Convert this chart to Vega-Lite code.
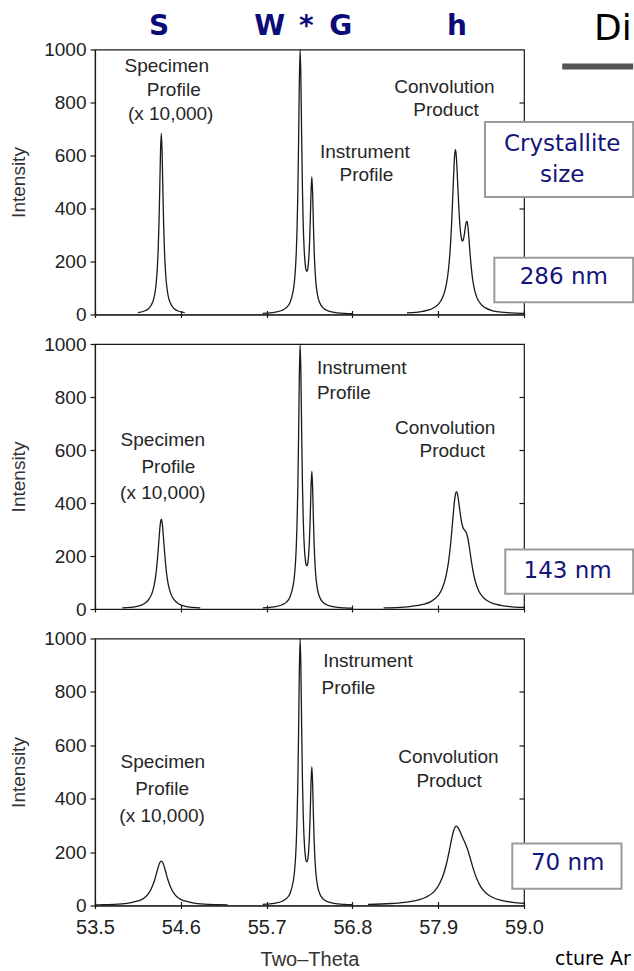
{
  "$schema": "https://vega.github.io/schema/vega-lite/v6.json",
  "padding": {"left": 9, "top": 10.5, "right": 0, "bottom": 0},
  "bounds": "flush",
  "spacing": 29.5,
  "config": {
    "view": {"stroke": "#1a1a1a", "strokeWidth": 1.2},
    "axis": {"grid": false, "labelFont": "Liberation Sans", "titleFont": "Liberation Sans", "labelFontSize": 20, "labelColor": "#222", "titleColor": "#333", "domainColor": "#1a1a1a", "tickColor": "#1a1a1a", "titleFontWeight": "normal", "domainWidth": 1.2, "tickWidth": 1.2, "labelFlush": false, "labelOverlap": false},
    "text": {"font": "DejaVu Sans"}
  },
  "datasets": {
    "inst": [
      {"x": 55.65, "y": 4}, {"x": 55.7, "y": 5}, {"x": 55.8, "y": 8}, {"x": 55.9, "y": 16}, {"x": 55.95, "y": 25}, {"x": 56.0, "y": 45}, {"x": 56.04, "y": 88}, {"x": 56.05, "y": 107}, {"x": 56.06, "y": 135}, {"x": 56.07, "y": 174}, {"x": 56.08, "y": 231}, {"x": 56.09, "y": 318}, {"x": 56.1, "y": 452}, {"x": 56.11, "y": 648}, {"x": 56.12, "y": 879}, {"x": 56.13, "y": 1000}, {"x": 56.14, "y": 884}, {"x": 56.15, "y": 656}, {"x": 56.16, "y": 464}, {"x": 56.17, "y": 336}, {"x": 56.18, "y": 256}, {"x": 56.19, "y": 206}, {"x": 56.2, "y": 178}, {"x": 56.21, "y": 164}, {"x": 56.22, "y": 164}, {"x": 56.23, "y": 177}, {"x": 56.24, "y": 209}, {"x": 56.25, "y": 266}, {"x": 56.26, "y": 356}, {"x": 56.27, "y": 465}, {"x": 56.28, "y": 520}, {"x": 56.29, "y": 457}, {"x": 56.3, "y": 340}, {"x": 56.31, "y": 240}, {"x": 56.32, "y": 173}, {"x": 56.33, "y": 128}, {"x": 56.35, "y": 78}, {"x": 56.38, "y": 45}, {"x": 56.42, "y": 26}, {"x": 56.47, "y": 16}, {"x": 56.55, "y": 9}, {"x": 56.7, "y": 4}, {"x": 56.8, "y": 3}
    ],
    "top": [
      {"s": "spec", "x": 54.05, "y": 7}, {"s": "spec", "x": 54.15, "y": 15}, {"s": "spec", "x": 54.22, "y": 35}, {"s": "spec", "x": 54.25, "y": 56}, {"s": "spec", "x": 54.27, "y": 84}, {"s": "spec", "x": 54.285, "y": 120}, {"s": "spec", "x": 54.3, "y": 181}, {"s": "spec", "x": 54.31, "y": 246}, {"s": "spec", "x": 54.32, "y": 341}, {"s": "spec", "x": 54.33, "y": 473}, {"s": "spec", "x": 54.34, "y": 615}, {"s": "spec", "x": 54.35, "y": 683}, {"s": "spec", "x": 54.36, "y": 615}, {"s": "spec", "x": 54.37, "y": 473}, {"s": "spec", "x": 54.38, "y": 341}, {"s": "spec", "x": 54.39, "y": 246}, {"s": "spec", "x": 54.4, "y": 181}, {"s": "spec", "x": 54.415, "y": 120}, {"s": "spec", "x": 54.43, "y": 84}, {"s": "spec", "x": 54.45, "y": 56}, {"s": "spec", "x": 54.48, "y": 35}, {"s": "spec", "x": 54.55, "y": 15}, {"s": "spec", "x": 54.65, "y": 7},
      {"s": "conv", "x": 57.5, "y": 6}, {"s": "conv", "x": 57.7, "y": 12}, {"s": "conv", "x": 57.8, "y": 19}, {"s": "conv", "x": 57.9, "y": 38}, {"s": "conv", "x": 57.95, "y": 60}, {"s": "conv", "x": 58.0, "y": 107}, {"s": "conv", "x": 58.03, "y": 165}, {"s": "conv", "x": 58.05, "y": 231}, {"s": "conv", "x": 58.06, "y": 276}, {"s": "conv", "x": 58.07, "y": 331}, {"s": "conv", "x": 58.08, "y": 397}, {"s": "conv", "x": 58.09, "y": 470}, {"s": "conv", "x": 58.1, "y": 542}, {"s": "conv", "x": 58.11, "y": 598}, {"s": "conv", "x": 58.12, "y": 622}, {"s": "conv", "x": 58.13, "y": 605}, {"s": "conv", "x": 58.14, "y": 557}, {"s": "conv", "x": 58.15, "y": 493}, {"s": "conv", "x": 58.16, "y": 430}, {"s": "conv", "x": 58.17, "y": 375}, {"s": "conv", "x": 58.18, "y": 332}, {"s": "conv", "x": 58.19, "y": 302}, {"s": "conv", "x": 58.2, "y": 284}, {"s": "conv", "x": 58.21, "y": 277}, {"s": "conv", "x": 58.22, "y": 280}, {"s": "conv", "x": 58.23, "y": 293}, {"s": "conv", "x": 58.24, "y": 312}, {"s": "conv", "x": 58.25, "y": 334}, {"s": "conv", "x": 58.26, "y": 349}, {"s": "conv", "x": 58.27, "y": 351}, {"s": "conv", "x": 58.28, "y": 334}, {"s": "conv", "x": 58.29, "y": 302}, {"s": "conv", "x": 58.3, "y": 263}, {"s": "conv", "x": 58.31, "y": 224}, {"s": "conv", "x": 58.32, "y": 190}, {"s": "conv", "x": 58.34, "y": 136}, {"s": "conv", "x": 58.37, "y": 88}, {"s": "conv", "x": 58.4, "y": 61}, {"s": "conv", "x": 58.45, "y": 38}, {"s": "conv", "x": 58.5, "y": 26}, {"s": "conv", "x": 58.6, "y": 14}, {"s": "conv", "x": 58.75, "y": 8}, {"s": "conv", "x": 59.0, "y": 4}
    ],
    "mid": [
      {"s": "spec", "x": 53.85, "y": 4}, {"s": "spec", "x": 53.95, "y": 6}, {"s": "spec", "x": 54.05, "y": 11}, {"s": "spec", "x": 54.13, "y": 20}, {"s": "spec", "x": 54.19, "y": 36}, {"s": "spec", "x": 54.23, "y": 59}, {"s": "spec", "x": 54.26, "y": 92}, {"s": "spec", "x": 54.28, "y": 129}, {"s": "spec", "x": 54.295, "y": 170}, {"s": "spec", "x": 54.31, "y": 222}, {"s": "spec", "x": 54.32, "y": 261}, {"s": "spec", "x": 54.33, "y": 299}, {"s": "spec", "x": 54.34, "y": 328}, {"s": "spec", "x": 54.35, "y": 339}, {"s": "spec", "x": 54.36, "y": 328}, {"s": "spec", "x": 54.37, "y": 299}, {"s": "spec", "x": 54.38, "y": 261}, {"s": "spec", "x": 54.39, "y": 222}, {"s": "spec", "x": 54.405, "y": 170}, {"s": "spec", "x": 54.42, "y": 129}, {"s": "spec", "x": 54.44, "y": 92}, {"s": "spec", "x": 54.47, "y": 59}, {"s": "spec", "x": 54.51, "y": 36}, {"s": "spec", "x": 54.57, "y": 20}, {"s": "spec", "x": 54.65, "y": 11}, {"s": "spec", "x": 54.75, "y": 6}, {"s": "spec", "x": 54.85, "y": 4},
      {"s": "conv", "x": 57.2, "y": 4}, {"s": "conv", "x": 57.4, "y": 6}, {"s": "conv", "x": 57.5, "y": 8}, {"s": "conv", "x": 57.7, "y": 17}, {"s": "conv", "x": 57.8, "y": 27}, {"s": "conv", "x": 57.9, "y": 51}, {"s": "conv", "x": 57.95, "y": 76}, {"s": "conv", "x": 58.0, "y": 124}, {"s": "conv", "x": 58.03, "y": 173}, {"s": "conv", "x": 58.06, "y": 248}, {"s": "conv", "x": 58.08, "y": 313}, {"s": "conv", "x": 58.1, "y": 381}, {"s": "conv", "x": 58.11, "y": 410}, {"s": "conv", "x": 58.12, "y": 431}, {"s": "conv", "x": 58.13, "y": 442}, {"s": "conv", "x": 58.14, "y": 441}, {"s": "conv", "x": 58.15, "y": 430}, {"s": "conv", "x": 58.16, "y": 411}, {"s": "conv", "x": 58.18, "y": 366}, {"s": "conv", "x": 58.2, "y": 328}, {"s": "conv", "x": 58.22, "y": 306}, {"s": "conv", "x": 58.24, "y": 297}, {"s": "conv", "x": 58.26, "y": 288}, {"s": "conv", "x": 58.28, "y": 267}, {"s": "conv", "x": 58.3, "y": 232}, {"s": "conv", "x": 58.32, "y": 191}, {"s": "conv", "x": 58.35, "y": 137}, {"s": "conv", "x": 58.38, "y": 100}, {"s": "conv", "x": 58.42, "y": 68}, {"s": "conv", "x": 58.47, "y": 46}, {"s": "conv", "x": 58.53, "y": 31}, {"s": "conv", "x": 58.6, "y": 21}, {"s": "conv", "x": 58.7, "y": 14}, {"s": "conv", "x": 58.85, "y": 8}, {"s": "conv", "x": 59.0, "y": 6}
    ],
    "bot": [
      {"s": "spec", "x": 53.5, "y": 2}, {"s": "spec", "x": 53.6, "y": 3}, {"s": "spec", "x": 53.8, "y": 5}, {"s": "spec", "x": 53.95, "y": 10}, {"s": "spec", "x": 54.05, "y": 17}, {"s": "spec", "x": 54.13, "y": 28}, {"s": "spec", "x": 54.18, "y": 43}, {"s": "spec", "x": 54.22, "y": 62}, {"s": "spec", "x": 54.25, "y": 83}, {"s": "spec", "x": 54.27, "y": 101}, {"s": "spec", "x": 54.29, "y": 122}, {"s": "spec", "x": 54.31, "y": 143}, {"s": "spec", "x": 54.33, "y": 160}, {"s": "spec", "x": 54.35, "y": 166}, {"s": "spec", "x": 54.37, "y": 160}, {"s": "spec", "x": 54.39, "y": 143}, {"s": "spec", "x": 54.41, "y": 122}, {"s": "spec", "x": 54.43, "y": 101}, {"s": "spec", "x": 54.45, "y": 83}, {"s": "spec", "x": 54.48, "y": 62}, {"s": "spec", "x": 54.52, "y": 43}, {"s": "spec", "x": 54.57, "y": 28}, {"s": "spec", "x": 54.65, "y": 17}, {"s": "spec", "x": 54.75, "y": 10}, {"s": "spec", "x": 54.9, "y": 5}, {"s": "spec", "x": 55.1, "y": 3}, {"s": "spec", "x": 55.2, "y": 2},
      {"s": "conv", "x": 57.0, "y": 4}, {"s": "conv", "x": 57.3, "y": 7.5}, {"s": "conv", "x": 57.5, "y": 12.6}, {"s": "conv", "x": 57.65, "y": 21}, {"s": "conv", "x": 57.75, "y": 32}, {"s": "conv", "x": 57.85, "y": 53}, {"s": "conv", "x": 57.92, "y": 83}, {"s": "conv", "x": 57.97, "y": 119}, {"s": "conv", "x": 58.01, "y": 161}, {"s": "conv", "x": 58.04, "y": 202}, {"s": "conv", "x": 58.07, "y": 246}, {"s": "conv", "x": 58.1, "y": 282}, {"s": "conv", "x": 58.13, "y": 297}, {"s": "conv", "x": 58.16, "y": 289}, {"s": "conv", "x": 58.19, "y": 270}, {"s": "conv", "x": 58.22, "y": 250}, {"s": "conv", "x": 58.25, "y": 230}, {"s": "conv", "x": 58.28, "y": 207}, {"s": "conv", "x": 58.31, "y": 178}, {"s": "conv", "x": 58.35, "y": 137}, {"s": "conv", "x": 58.4, "y": 96}, {"s": "conv", "x": 58.45, "y": 68}, {"s": "conv", "x": 58.52, "y": 45}, {"s": "conv", "x": 58.6, "y": 30}, {"s": "conv", "x": 58.7, "y": 20}, {"s": "conv", "x": 58.85, "y": 12}, {"s": "conv", "x": 59.0, "y": 8}
    ],
    "notes": [
      {"p": "top", "x": 54.42, "y": 936, "t": "Specimen"}, {"p": "top", "x": 54.51, "y": 849, "t": "Profile"}, {"p": "top", "x": 54.47, "y": 758, "t": "(x 10,000)"},
      {"p": "top", "x": 57.98, "y": 857, "t": "Convolution"}, {"p": "top", "x": 58.0, "y": 772, "t": "Product"},
      {"p": "top", "x": 56.96, "y": 615, "t": "Instrument"}, {"p": "top", "x": 56.98, "y": 525, "t": "Profile"},
      {"p": "mid", "x": 56.92, "y": 911, "t": "Instrument"}, {"p": "mid", "x": 56.69, "y": 816, "t": "Profile"},
      {"p": "mid", "x": 54.37, "y": 638, "t": "Specimen"}, {"p": "mid", "x": 54.44, "y": 536, "t": "Profile"}, {"p": "mid", "x": 54.37, "y": 438, "t": "(x 10,000)"},
      {"p": "mid", "x": 57.99, "y": 683, "t": "Convolution"}, {"p": "mid", "x": 58.08, "y": 596, "t": "Product"},
      {"p": "bot", "x": 57.0, "y": 914, "t": "Instrument"}, {"p": "bot", "x": 56.75, "y": 814, "t": "Profile"},
      {"p": "bot", "x": 54.37, "y": 538, "t": "Specimen"}, {"p": "bot", "x": 54.36, "y": 438, "t": "Profile"}, {"p": "bot", "x": 54.36, "y": 335, "t": "(x 10,000)"},
      {"p": "bot", "x": 58.03, "y": 557, "t": "Convolution"}, {"p": "bot", "x": 58.04, "y": 466, "t": "Product"}
    ],
    "boxes": [
      {"p": "top", "x": 58.5, "x2": 60.4, "y": 726, "y2": 443},
      {"p": "top", "x": 58.62, "x2": 60.4, "y": 214, "y2": 46},
      {"p": "mid", "x": 58.76, "x2": 60.4, "y": 225, "y2": 58},
      {"p": "bot", "x": 58.85, "x2": 60.25, "y": 232, "y2": 63}
    ],
    "boxtext": [
      {"p": "top", "x": 59.49, "y": 644, "t": "Crystallite"},
      {"p": "top", "x": 59.49, "y": 525, "t": "size"},
      {"p": "top", "x": 59.51, "y": 141, "t": "286 nm"},
      {"p": "mid", "x": 59.56, "y": 143, "t": "143 nm"},
      {"p": "bot", "x": 59.56, "y": 158, "t": "70 nm"}
    ],
    "letters": [
      {"x": 54.32, "y": 1053, "t": "S"}, {"x": 55.74, "y": 1053, "t": "W"}, {"x": 56.21, "y": 1053, "t": "*"}, {"x": 56.65, "y": 1053, "t": "G"}, {"x": 58.14, "y": 1053, "t": "h"}
    ],
    "heading": [{"x": 60.38, "y": 1034, "t": "Di"}],
    "bar": [{"x": 59.49, "x2": 60.4, "y": 936}],
    "footer": [{"x": 60.37, "y": -222, "t": "cture Ar"}]
  },
  "vconcat": [
    {
      "width": 429, "height": 265,
      "resolve": {"axis": {"x": "independent", "y": "independent"}},
      "layer": [
        {"data": {"name": "inst"}, "mark": {"type": "line", "interpolate": "monotone", "stroke": "#1a1a1a", "strokeWidth": 1.3},
         "encoding": {
           "x": {"field": "x", "type": "quantitative", "scale": {"domain": [53.5, 59.0], "nice": false, "zero": false}, "axis": {"orient": "bottom", "values": [53.5, 54.6, 55.7, 56.8, 57.9, 59.0], "labels": false, "title": null, "tickSize": 3}},
           "y": {"field": "y", "type": "quantitative", "scale": {"domain": [0, 1000], "nice": false}, "axis": {"values": [0, 200, 400, 600, 800, 1000], "format": "d", "labelFontSize": 19, "title": "Intensity", "titleFontSize": 19, "titlePadding": 15, "tickSize": 5, "labelPadding": 4}}
         }},
        {"data": {"name": "top"}, "mark": {"type": "line", "interpolate": "monotone", "stroke": "#1a1a1a", "strokeWidth": 1.3},
         "encoding": {
           "x": {"field": "x", "type": "quantitative", "axis": {"orient": "bottom", "values": [53.5, 54.6, 55.7, 56.8, 57.9, 59.0], "labels": false, "domain": false, "title": null, "tickSize": -4}},
           "y": {"field": "y", "type": "quantitative", "axis": {"orient": "right", "values": [200, 400, 600, 800], "labels": false, "domain": false, "tickSize": -5, "title": null}},
           "detail": {"field": "s"}
         }},
        {"data": {"name": "notes"}, "transform": [{"filter": "datum.p == 'top'"}], "mark": {"type": "text", "font": "Liberation Sans", "fontSize": 19, "color": "#262626", "align": "center", "baseline": "middle"},
         "encoding": {"x": {"field": "x", "type": "quantitative", "axis": null}, "y": {"field": "y", "type": "quantitative", "axis": null}, "text": {"field": "t"}}},
        {"data": {"name": "boxes"}, "transform": [{"filter": "datum.p == 'top'"}], "mark": {"type": "rect", "fill": "white", "stroke": "#9a9a9a", "strokeWidth": 2},
         "encoding": {"x": {"field": "x", "type": "quantitative", "axis": null}, "x2": {"field": "x2"}, "y": {"field": "y", "type": "quantitative", "axis": null}, "y2": {"field": "y2"}}},
        {"data": {"name": "boxtext"}, "transform": [{"filter": "datum.p == 'top'"}], "mark": {"type": "text", "fontSize": 23, "color": "#14147a", "align": "center", "baseline": "middle"},
         "encoding": {"x": {"field": "x", "type": "quantitative", "axis": null}, "y": {"field": "y", "type": "quantitative", "axis": null}, "text": {"field": "t"}}},
        {"data": {"name": "letters"}, "mark": {"type": "text", "fontSize": 28, "fontWeight": "bold", "color": "#0c0c78", "align": "center", "baseline": "alphabetic"},
         "encoding": {"x": {"field": "x", "type": "quantitative", "axis": null}, "y": {"field": "y", "type": "quantitative", "axis": null}, "text": {"field": "t"}}},
        {"data": {"name": "heading"}, "mark": {"type": "text", "fontSize": 36, "color": "#000000", "align": "right", "baseline": "alphabetic"},
         "encoding": {"x": {"field": "x", "type": "quantitative", "axis": null}, "y": {"field": "y", "type": "quantitative", "axis": null}, "text": {"field": "t"}}},
        {"data": {"name": "bar"}, "mark": {"type": "rule", "stroke": "#555555", "strokeWidth": 6},
         "encoding": {"x": {"field": "x", "type": "quantitative", "axis": null}, "x2": {"field": "x2"}, "y": {"field": "y", "type": "quantitative", "axis": null}}}
      ]
    },
    {
      "width": 429, "height": 265,
      "resolve": {"axis": {"x": "independent", "y": "independent"}},
      "layer": [
        {"data": {"name": "inst"}, "mark": {"type": "line", "interpolate": "monotone", "stroke": "#1a1a1a", "strokeWidth": 1.3},
         "encoding": {
           "x": {"field": "x", "type": "quantitative", "scale": {"domain": [53.5, 59.0], "nice": false, "zero": false}, "axis": {"orient": "bottom", "values": [53.5, 54.6, 55.7, 56.8, 57.9, 59.0], "labels": false, "title": null, "tickSize": 3}},
           "y": {"field": "y", "type": "quantitative", "scale": {"domain": [0, 1000], "nice": false}, "axis": {"values": [0, 200, 400, 600, 800, 1000], "format": "d", "labelFontSize": 19, "title": "Intensity", "titleFontSize": 19, "titlePadding": 15, "tickSize": 5, "labelPadding": 4}}
         }},
        {"data": {"name": "mid"}, "mark": {"type": "line", "interpolate": "monotone", "stroke": "#1a1a1a", "strokeWidth": 1.3},
         "encoding": {
           "x": {"field": "x", "type": "quantitative", "axis": {"orient": "bottom", "values": [53.5, 54.6, 55.7, 56.8, 57.9, 59.0], "labels": false, "domain": false, "title": null, "tickSize": -4}},
           "y": {"field": "y", "type": "quantitative", "axis": {"orient": "right", "values": [200, 400, 600, 800], "labels": false, "domain": false, "tickSize": -5, "title": null}},
           "detail": {"field": "s"}
         }},
        {"data": {"name": "notes"}, "transform": [{"filter": "datum.p == 'mid'"}], "mark": {"type": "text", "font": "Liberation Sans", "fontSize": 19, "color": "#262626", "align": "center", "baseline": "middle"},
         "encoding": {"x": {"field": "x", "type": "quantitative", "axis": null}, "y": {"field": "y", "type": "quantitative", "axis": null}, "text": {"field": "t"}}},
        {"data": {"name": "boxes"}, "transform": [{"filter": "datum.p == 'mid'"}], "mark": {"type": "rect", "fill": "white", "stroke": "#9a9a9a", "strokeWidth": 2},
         "encoding": {"x": {"field": "x", "type": "quantitative", "axis": null}, "x2": {"field": "x2"}, "y": {"field": "y", "type": "quantitative", "axis": null}, "y2": {"field": "y2"}}},
        {"data": {"name": "boxtext"}, "transform": [{"filter": "datum.p == 'mid'"}], "mark": {"type": "text", "fontSize": 23, "color": "#14147a", "align": "center", "baseline": "middle"},
         "encoding": {"x": {"field": "x", "type": "quantitative", "axis": null}, "y": {"field": "y", "type": "quantitative", "axis": null}, "text": {"field": "t"}}}
      ]
    },
    {
      "width": 429, "height": 267,
      "resolve": {"axis": {"x": "independent", "y": "independent"}},
      "layer": [
        {"data": {"name": "inst"}, "mark": {"type": "line", "interpolate": "monotone", "stroke": "#1a1a1a", "strokeWidth": 1.3},
         "encoding": {
           "x": {"field": "x", "type": "quantitative", "scale": {"domain": [53.5, 59.0], "nice": false, "zero": false}, "axis": {"orient": "bottom", "values": [53.5, 54.6, 55.7, 56.8, 57.9, 59.0], "format": ".1f", "title": "Two–Theta", "titleFontSize": 20, "titlePadding": 12, "tickSize": 3, "labelPadding": 8.5}},
           "y": {"field": "y", "type": "quantitative", "scale": {"domain": [0, 1000], "nice": false}, "axis": {"values": [0, 200, 400, 600, 800, 1000], "format": "d", "labelFontSize": 19, "title": "Intensity", "titleFontSize": 19, "titlePadding": 15, "tickSize": 5, "labelPadding": 4}}
         }},
        {"data": {"name": "bot"}, "mark": {"type": "line", "interpolate": "monotone", "stroke": "#1a1a1a", "strokeWidth": 1.3},
         "encoding": {
           "x": {"field": "x", "type": "quantitative", "axis": {"orient": "bottom", "values": [53.5, 54.6, 55.7, 56.8, 57.9, 59.0], "labels": false, "domain": false, "title": null, "tickSize": -4}},
           "y": {"field": "y", "type": "quantitative", "axis": {"orient": "right", "values": [200, 400, 600, 800], "labels": false, "domain": false, "tickSize": -5, "title": null}},
           "detail": {"field": "s"}
         }},
        {"data": {"name": "notes"}, "transform": [{"filter": "datum.p == 'bot'"}], "mark": {"type": "text", "font": "Liberation Sans", "fontSize": 19, "color": "#262626", "align": "center", "baseline": "middle"},
         "encoding": {"x": {"field": "x", "type": "quantitative", "axis": null}, "y": {"field": "y", "type": "quantitative", "axis": null}, "text": {"field": "t"}}},
        {"data": {"name": "boxes"}, "transform": [{"filter": "datum.p == 'bot'"}], "mark": {"type": "rect", "fill": "white", "stroke": "#9a9a9a", "strokeWidth": 2},
         "encoding": {"x": {"field": "x", "type": "quantitative", "axis": null}, "x2": {"field": "x2"}, "y": {"field": "y", "type": "quantitative", "axis": null}, "y2": {"field": "y2"}}},
        {"data": {"name": "boxtext"}, "transform": [{"filter": "datum.p == 'bot'"}], "mark": {"type": "text", "fontSize": 23, "color": "#14147a", "align": "center", "baseline": "middle"},
         "encoding": {"x": {"field": "x", "type": "quantitative", "axis": null}, "y": {"field": "y", "type": "quantitative", "axis": null}, "text": {"field": "t"}}},
        {"data": {"name": "footer"}, "mark": {"type": "text", "fontSize": 19, "color": "#000000", "align": "right", "baseline": "alphabetic"},
         "encoding": {"x": {"field": "x", "type": "quantitative", "axis": null}, "y": {"field": "y", "type": "quantitative", "axis": null}, "text": {"field": "t"}}}
      ]
    }
  ]
}
